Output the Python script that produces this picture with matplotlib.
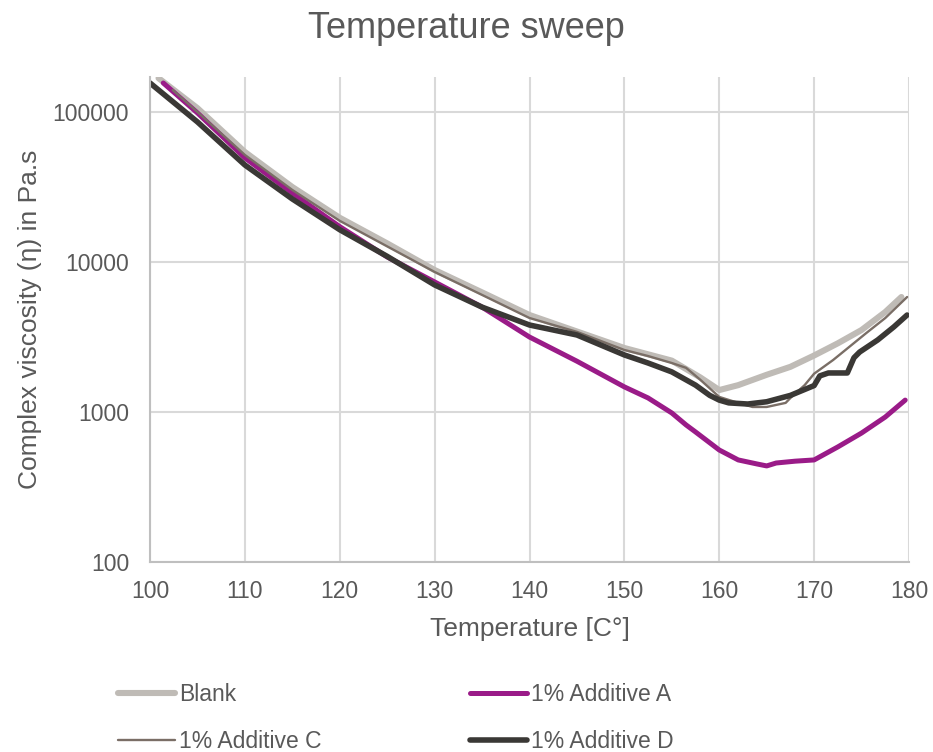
import numpy as np
import matplotlib
matplotlib.use("Agg")
import matplotlib.pyplot as plt
from matplotlib.ticker import FixedLocator, NullLocator

plt.rcParams['font.family'] = ['Liberation Sans', 'DejaVu Sans']

# Temperature sweep readings
blank_t = [100.9, 105, 110, 115, 120, 125, 130, 135, 140, 145, 150, 155, 158, 160,
           162, 165, 167.5, 170, 172.5, 175, 177.5, 179.2]
blank_v = [168000, 106000, 54100, 31600, 19700, 13300, 8840, 6270, 4430, 3440, 2670,
           2200, 1700, 1400, 1510, 1770, 2000, 2380, 2870, 3520, 4640, 5840]

add_a_t = [101.4, 105, 110, 115, 120, 125, 130, 135, 140, 145, 150, 152.5, 155, 156.5,
           157.5, 160, 162, 164, 165, 166, 168, 170, 172.5, 175, 177.5, 179.6]
add_a_v = [156000, 98500, 49400, 28800, 17200, 10800, 7360, 5000, 3160, 2180, 1470,
           1240, 985, 820, 736, 558, 479, 450, 437, 457, 470, 479, 585, 724, 926, 1200]

add_c_t = [102.4, 105, 110, 115, 120, 125, 130, 135, 140, 145, 150, 152.5, 155, 156.5,
           158, 160, 162, 163.5, 165, 167, 167.5, 169, 170, 172, 175.5, 177.5, 179.8]
add_c_v = [140000, 100000, 51700, 30200, 18800, 12700, 8580, 6030, 4230, 3420, 2590,
           2360, 2120, 1970, 1640, 1260, 1150, 1080, 1080, 1150, 1240, 1510, 1800, 2220,
           3360, 4230, 5840]

add_d_t = [100.0, 105, 110, 115, 120, 125, 130, 135, 140, 145, 150, 152.5, 155, 157.5,
           159, 160, 161, 163, 165, 167.5, 170, 170.6, 171.5, 173.5, 174.2, 174.8, 176.7,
           178.4, 179.8]
add_d_v = [156000, 85800, 44300, 26300, 16400, 10900, 7030, 5000, 3800, 3260, 2400,
           2120, 1850, 1510, 1290, 1200, 1150, 1130, 1170, 1290, 1500, 1740, 1820, 1820,
           2300, 2510, 3020, 3690, 4430]

series = [
    ("Blank", blank_t, blank_v, "#bfbbb6", 4.4),
    ("1% Additive A", add_a_t, add_a_v, "#9a1b88", 3.6),
    ("1% Additive C", add_c_t, add_c_v, "#7a6e66", 1.7),
    ("1% Additive D", add_d_t, add_d_v, "#3a3835", 4.0),
]

x_ticks = [100, 110, 120, 130, 140, 150, 160, 170, 180]
y_ticks = [100, 1000, 10000, 100000]
y_tick_labels = ["100", "1000", "10000", "100000"]

text_color = "#595959"
grid_color = "#d9d9d9"

fig = plt.figure(figsize=(9.33, 7.52), dpi=100)
ax = fig.add_axes([150 / 933, (752 - 562) / 752, (909 - 150) / 933, (562 - 77) / 752])

lines = {}
for name, t, v, color, lw in series:
    ln, = ax.plot(t, v, color=color, linewidth=lw, label=name,
                  solid_capstyle="round", solid_joinstyle="round")
    lines[name] = ln

ax.set_yscale("log")
ax.set_xlim(100, 180)
ax.set_ylim(100, 10 ** 5.233)
ax.xaxis.set_major_locator(FixedLocator(x_ticks))
ax.set_xticklabels([str(t) for t in x_ticks])
ax.yaxis.set_major_locator(FixedLocator(y_ticks))
ax.yaxis.set_minor_locator(NullLocator())
ax.set_yticklabels(y_tick_labels)

ax.grid(True, color=grid_color, linewidth=1.5)
ax.set_axisbelow(True)
for side in ["top", "right"]:
    ax.spines[side].set_visible(False)
for side in ["left", "bottom"]:
    ax.spines[side].set_color("#bfbfbf")
    ax.spines[side].set_linewidth(1.5)

ax.tick_params(axis="both", length=0, labelsize=16.5, labelcolor=text_color)
ax.tick_params(axis="y", pad=15)
ax.tick_params(axis="x", pad=13)

ax.set_xlabel("Temperature [C°]", fontsize=19, color=text_color, labelpad=10)
ax.set_ylabel("Complex viscosity (η) in Pa.s", fontsize=19, color=text_color, labelpad=8)

fig.text(0.5, 1 - 28 / 752, "Temperature sweep", fontsize=26, color=text_color,
         ha="center", va="center")

# legend: column-wise fill -> Blank, C | A, D
order = ["Blank", "1% Additive C", "1% Additive A", "1% Additive D"]
leg = fig.legend([lines[n] for n in order], order, ncol=2, frameon=False,
                 loc="upper left", bbox_to_anchor=(118 / 933, 1 - 683 / 752),
                 borderpad=0, borderaxespad=0, fontsize=16.5, handlelength=2.5,
                 handletextpad=0.15, columnspacing=6.5, labelspacing=1.05)
for txt in leg.get_texts():
    txt.set_color(text_color)

fig.savefig("out.png", dpi=100)
